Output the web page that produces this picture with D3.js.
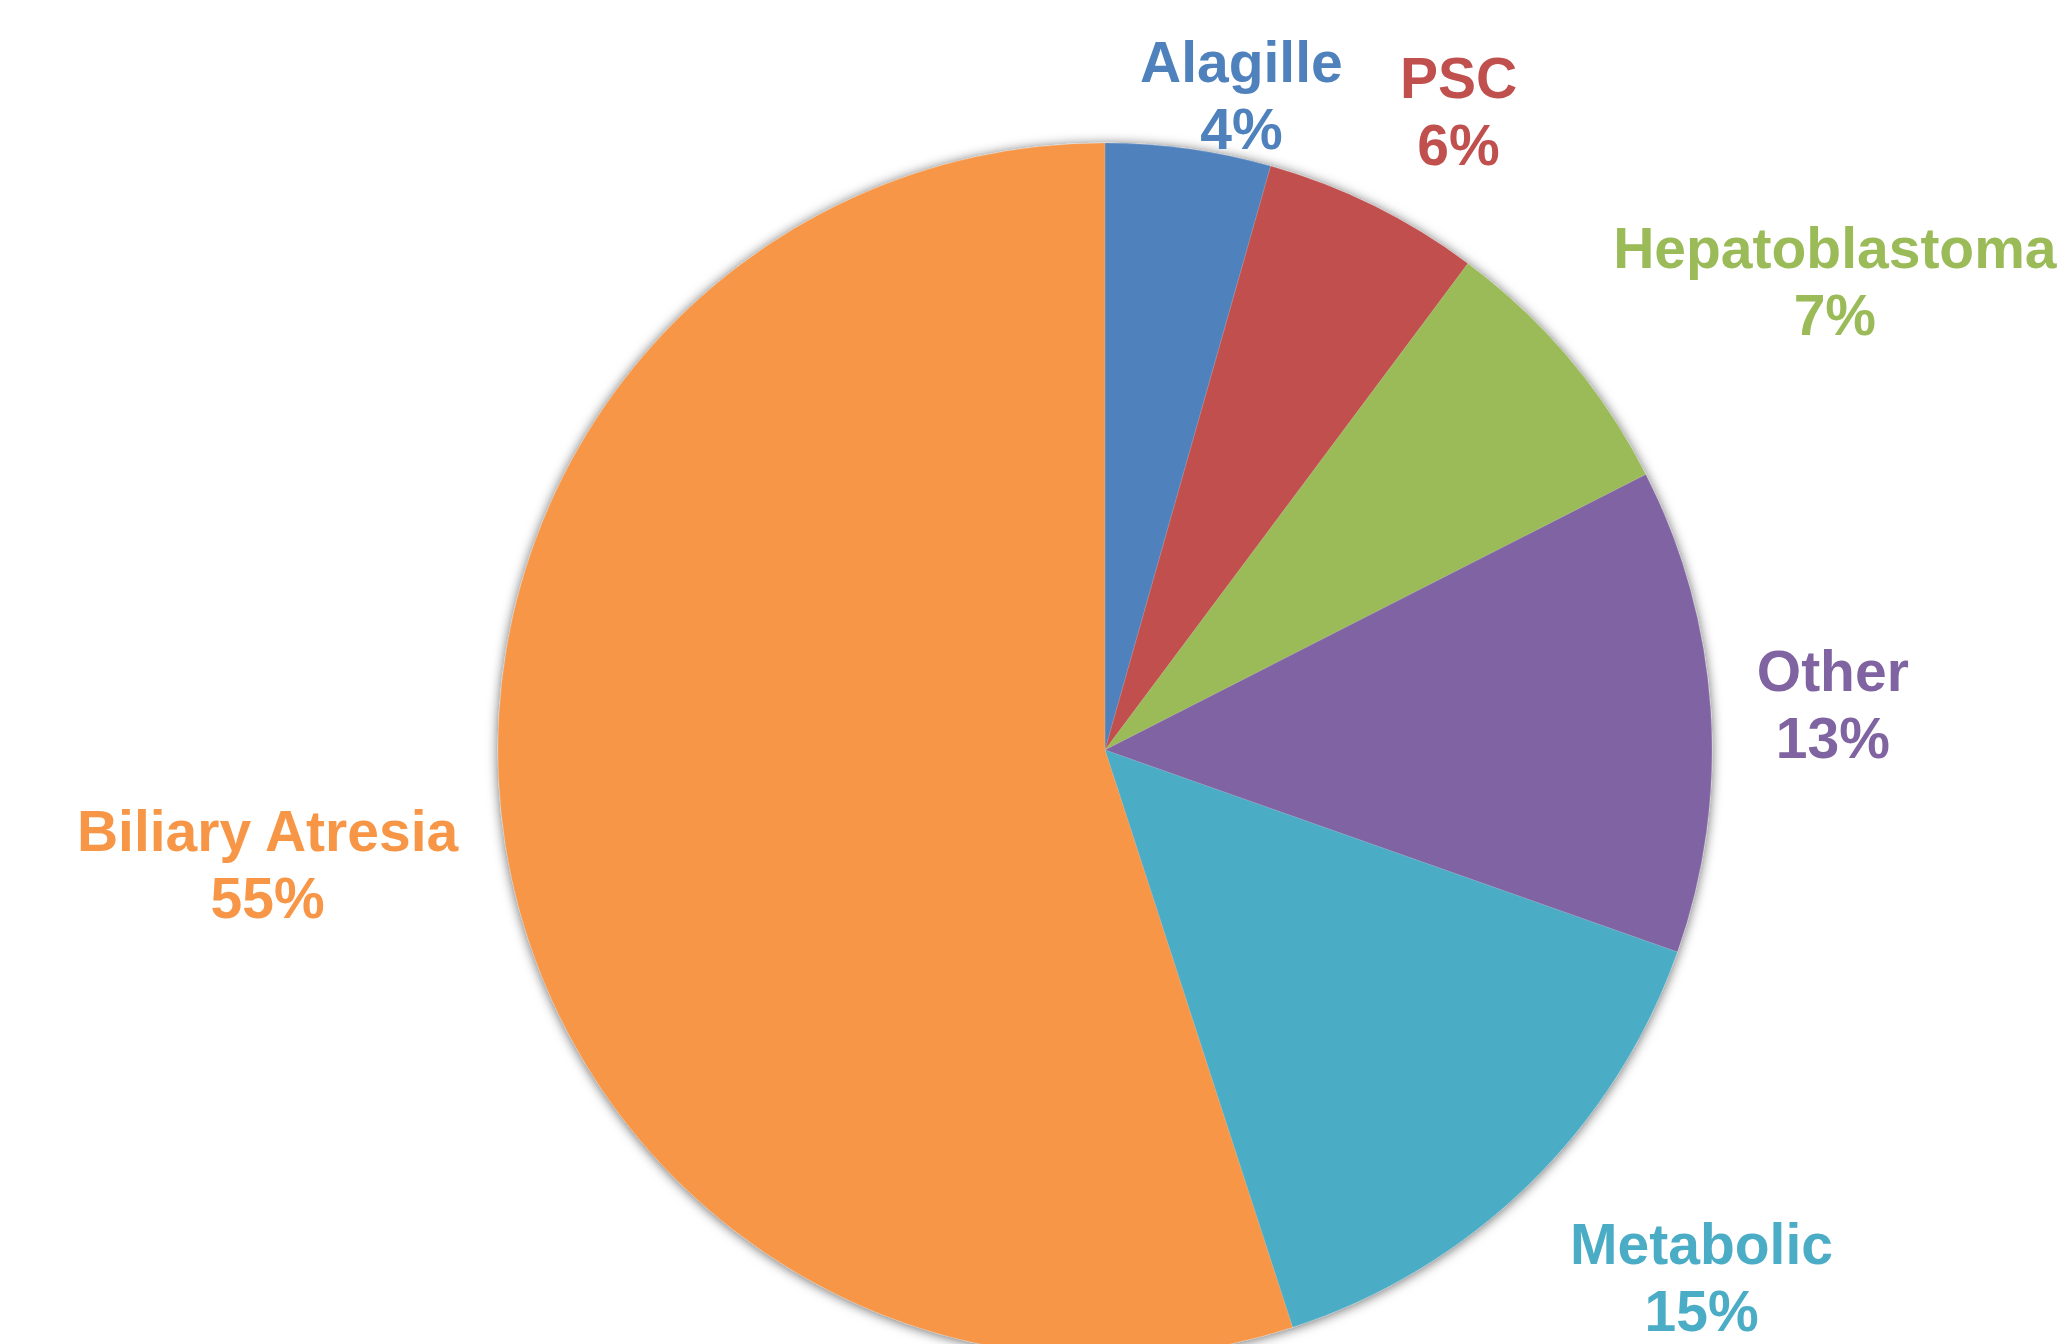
<!DOCTYPE html>
<html>
<head>
<meta charset="utf-8">
<script src="https://cdn.jsdelivr.net/npm/d3@7"></script>
<style>
  html, body { margin: 0; padding: 0; background: #fff; overflow: hidden; }
</style>
</head>
<body>
<div id="chart"></div>
<script>
// slices, clockwise from 12 o'clock
const categories = ["Alagille", "PSC", "Hepatoblastoma", "Other", "Metabolic", "Biliary Atresia"];
const shares = [4.4, 5.8, 7.3, 12.9, 14.6, 55.0];
const colors = ["#4F81BD", "#C0504D", "#9BBB59", "#8064A2", "#4BACC6", "#F79646"];

// label tweaks relative to the label arc centroid
const labelNudge = [[36, 66], [31, 14], [173, 0], [1, 2], [88, 5], [-118, 0]];

const width = 2067;
const height = 1344;
const cx = 1105, cy = 750;
const radius = 607;

const svg = d3.select("#chart")
  .append("svg")
  .attr("width", width)
  .attr("height", height);

const defs = svg.append("defs");
defs.append("filter")
  .attr("id", "shadow")
  .attr("x", "-10%").attr("y", "-10%")
  .attr("width", "120%").attr("height", "120%")
  .append("feDropShadow")
  .attr("dx", 0).attr("dy", 1)
  .attr("stdDeviation", 6)
  .attr("flood-color", "#000")
  .attr("flood-opacity", 0.6);

const g = svg.append("g")
  .attr("transform", "translate(" + cx + "," + cy + ")");

const data = categories.map((c, i) => ({ name: c, value: shares[i], color: colors[i], i: i }));

const pie = d3.pie().sort(null).value(d => d.value);
const arcs = pie(data);

const arc = d3.arc().innerRadius(0).outerRadius(radius);

g.append("g")
  .attr("filter", "url(#shadow)")
  .selectAll("path")
  .data(arcs)
  .enter()
  .append("path")
  .attr("d", arc)
  .attr("fill", d => d.data.color)
  .attr("stroke", "#ffffff")
  .attr("stroke-opacity", 0.25)
  .style("stroke-width", "0.5px");

// labels sit outside the pie
const labelArc = d3.arc().innerRadius(radius * 1.2).outerRadius(radius * 1.2);
const fontSize = 57;
const lineGap = 67;

const labels = g.selectAll("text.lbl")
  .data(arcs)
  .enter()
  .append("text")
  .attr("class", "lbl")
  .attr("transform", d => {
    const c = labelArc.centroid(d);
    const n = labelNudge[d.data.i];
    return "translate(" + (c[0] + n[0]) + "," + (c[1] + n[1]) + ")";
  })
  .style("text-anchor", "middle")
  .style("font-family", "'Liberation Sans', Arial, sans-serif")
  .style("font-weight", "bold")
  .style("font-size", fontSize + "px")
  .style("fill", d => d.data.color);

labels.append("tspan")
  .attr("x", 0)
  .attr("y", -12.5)
  .text(d => d.data.name);

labels.append("tspan")
  .attr("x", 0)
  .attr("y", -12.5 + lineGap)
  .text(d => Math.round(d.data.value) + "%");
</script>
</body>
</html>
